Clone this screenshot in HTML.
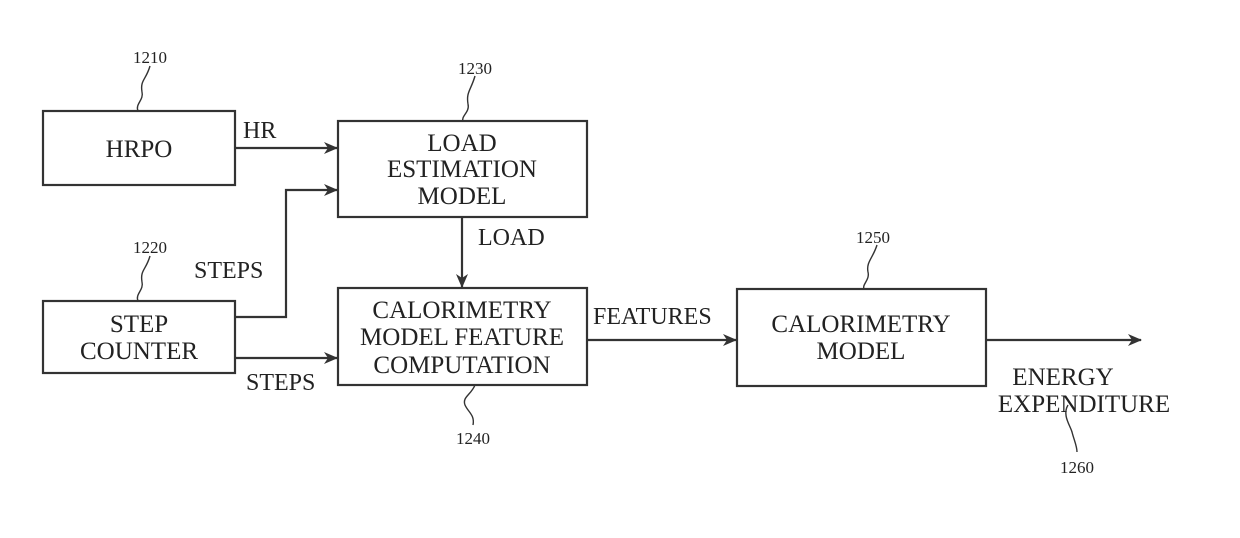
<!DOCTYPE html>
<html><head><meta charset="utf-8"><style>html,body{margin:0;padding:0;background:#fff}svg{display:block}</style></head>
<body>
<svg width="1240" height="538" viewBox="0 0 1240 538" xmlns="http://www.w3.org/2000/svg" font-family="Liberation Serif, serif" fill="#222">
<defs><marker id="a" markerWidth="14" markerHeight="12" refX="13" refY="6" orient="auto" markerUnits="userSpaceOnUse"><path d="M0,0 L14,6 L0,12 L4,6 Z" fill="#333"/></marker></defs>
<g fill="none" stroke="#333" stroke-width="2.2">
<rect x="43" y="111" width="192" height="74"/>
<rect x="338" y="121" width="249" height="96"/>
<rect x="43" y="301" width="192" height="72"/>
<rect x="338" y="288" width="249" height="97"/>
<rect x="737" y="289" width="249" height="97"/>
<line x1="235" y1="148" x2="337" y2="148" marker-end="url(#a)"/>
<polyline points="235,317 286,317 286,190 337,190" marker-end="url(#a)"/>
<line x1="235" y1="358" x2="337" y2="358" marker-end="url(#a)"/>
<line x1="462" y1="217" x2="462" y2="287" marker-end="url(#a)"/>
<line x1="587" y1="340" x2="736" y2="340" marker-end="url(#a)"/>
<line x1="986" y1="340" x2="1141" y2="340" marker-end="url(#a)"/>
<g stroke-width="1.4">
<path d="M150,66 C146,80 140,80 142,92 C144,100 135,104 138,111"/>
<path d="M150,256 C146,270 140,270 142,282 C144,290 135,294 138,301"/>
<path d="M475,76 C471,90 466,92 468,104 C470,112 461,116 463,121"/>
<path d="M475,385 C471,395 462,397 465,405 C468,412 475,415 473,425"/>
<path d="M877,245 C873,258 866,262 868,272 C870,280 862,284 864,289"/>
<path d="M1068,405 C1062,415 1070,425 1072,432 C1074,440 1077,446 1077,452"/>
</g>
</g>
<g font-size="17" text-anchor="middle">
<text x="150" y="63">1210</text>
<text x="150" y="253">1220</text>
<text x="475" y="74">1230</text>
<text x="473" y="444">1240</text>
<text x="873" y="243">1250</text>
<text x="1077" y="473">1260</text>
</g>
<g font-size="25" text-anchor="middle">
<text x="139" y="157">HRPO</text>
<text x="462" y="151">LOAD</text>
<text x="462" y="177">ESTIMATION</text>
<text x="462" y="204">MODEL</text>
<text x="139" y="332">STEP</text>
<text x="139" y="359">COUNTER</text>
<text x="462" y="318">CALORIMETRY</text>
<text x="462" y="345">MODEL FEATURE</text>
<text x="462" y="373">COMPUTATION</text>
<text x="861" y="332">CALORIMETRY</text>
<text x="861" y="359">MODEL</text>
<text x="1063" y="385">ENERGY</text>
<text x="1084" y="412">EXPENDITURE</text>
</g>
<g font-size="24">
<text x="243" y="138">HR</text>
<text x="478" y="245">LOAD</text>
<text x="194" y="278">STEPS</text>
<text x="246" y="390">STEPS</text>
<text x="593" y="324">FEATURES</text>
</g>
</svg>
</body></html>
